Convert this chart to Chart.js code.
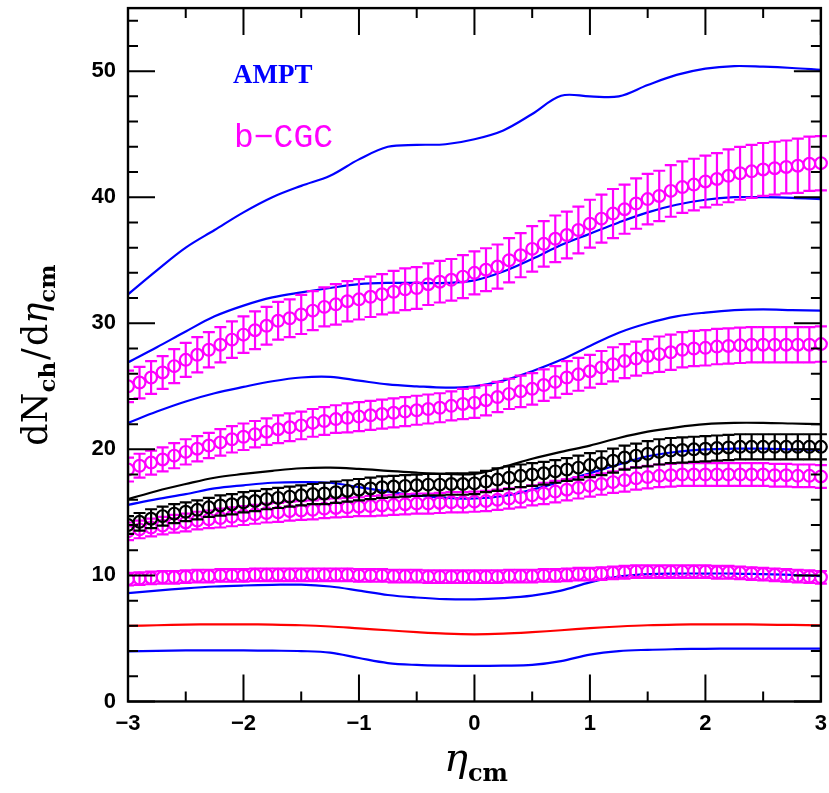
<!DOCTYPE html>
<html>
<head>
<meta charset="utf-8">
<script src="https://cdn.jsdelivr.net/npm/chart.js@4.4.0/dist/chart.umd.min.js"></script>
<style>
html, body { margin: 0; padding: 0; background: #fff; }
#wrap { width: 829px; height: 793px; }
</style>
</head>
<body>
<div id="wrap"><canvas id="dndeta"></canvas></div>
<script>
// eta grid for the model curves
const etaLine = [-3, -2.75, -2.5, -2.25, -2, -1.75, -1.5, -1.25, -1, -0.75, -0.5, -0.25, 0,
                 0.25, 0.5, 0.75, 1, 1.25, 1.5, 1.75, 2, 2.25, 2.5, 2.75, 3];

// AMPT curves (blue), top to bottom
const amptA = [32.3, 34.2, 36.0, 37.4, 38.8, 40.0, 40.9, 41.7, 43.0, 44.0, 44.15, 44.2, 44.6,
               45.3, 46.6, 48.05, 48.0, 48.0, 48.9, 49.7, 50.2, 50.4, 50.35, 50.25, 50.1];
const amptB = [26.9, 28.1, 29.35, 30.55, 31.4, 32.05, 32.45, 32.8, 33.1, 33.2, 33.2, 33.2, 33.4,
               34.1, 35.1, 36.2, 37.1, 38.0, 38.8, 39.4, 39.8, 40.0, 40.0, 39.95, 39.85];
const amptC = [22.1, 23.0, 23.8, 24.45, 24.95, 25.4, 25.7, 25.75, 25.45, 25.15, 25.0, 24.9, 25.0,
               25.45, 26.2, 27.1, 28.2, 29.25, 30.0, 30.55, 30.85, 31.05, 31.1, 31.05, 31.0];
const amptD = [15.6, 16.05, 16.45, 16.9, 17.15, 17.35, 17.4, 17.35, 17.0, 16.65, 16.35, 16.15, 16.1,
               16.3, 16.8, 17.45, 18.1, 18.8, 19.45, 19.8, 20.0, 20.05, 20.05, 20.0, 19.95];
const amptE = [8.6, 8.8, 8.98, 9.12, 9.2, 9.25, 9.27, 9.12, 8.8, 8.45, 8.25, 8.12, 8.1,
               8.2, 8.4, 8.8, 9.45, 9.9, 10.1, 10.15, 10.15, 10.15, 10.1, 10.05, 9.95];
const amptF = [3.98, 4.02, 4.05, 4.06, 4.05, 4.03, 4.0, 3.88, 3.45, 3.05, 2.9, 2.84, 2.82,
               2.84, 2.9, 3.2, 3.72, 4.0, 4.1, 4.15, 4.18, 4.2, 4.2, 4.2, 4.19];
// black and red curves
const blackLine = [16.05, 16.7, 17.25, 17.75, 18.05, 18.3, 18.5, 18.55, 18.45, 18.3, 18.15, 18.05, 18.05,
                   18.6, 19.25, 19.8, 20.3, 20.9, 21.4, 21.75, 22.0, 22.1, 22.1, 22.05, 22.0];
const redLine = [6.0, 6.05, 6.1, 6.12, 6.12, 6.1, 6.05, 5.95, 5.8, 5.65, 5.5, 5.38, 5.33,
                 5.38, 5.5, 5.65, 5.82, 5.95, 6.05, 6.1, 6.12, 6.12, 6.1, 6.07, 6.04];

// eta grid for the points
const etaPts = [-3, -2.9, -2.8, -2.7, -2.6, -2.5, -2.4, -2.3, -2.2, -2.1,
                -2, -1.9, -1.8, -1.7, -1.6, -1.5, -1.4, -1.3, -1.2, -1.1,
                -1, -0.9, -0.8, -0.7, -0.6, -0.5, -0.4, -0.3, -0.2, -0.1,
                0, 0.1, 0.2, 0.3, 0.4, 0.5, 0.6, 0.7, 0.8, 0.9,
                1, 1.1, 1.2, 1.3, 1.4, 1.5, 1.6, 1.7, 1.8, 1.9,
                2, 2.1, 2.2, 2.3, 2.4, 2.5, 2.6, 2.7, 2.8, 2.9,
                3];

// b-CGC points (magenta), top to bottom, with errors
const cgcA = [25.0, 25.3, 25.7, 26.1, 26.6, 27.1, 27.5, 27.9, 28.3, 28.7,
              29.1, 29.45, 29.8, 30.2, 30.4, 30.7, 31.0, 31.3, 31.5, 31.75,
              31.9, 32.1, 32.3, 32.5, 32.7, 32.8, 33.1, 33.3, 33.45, 33.7,
              34.0, 34.25, 34.5, 35.0, 35.4, 35.9, 36.3, 36.7, 37.0, 37.4,
              37.9, 38.3, 38.7, 39.05, 39.5, 39.85, 40.1, 40.5, 40.8, 41.0,
              41.25, 41.45, 41.7, 41.9, 42.05, 42.2, 42.3, 42.4, 42.5, 42.65,
              42.7];
const cgcAErr = [1.25, 1.25, 1.3, 1.3, 1.35, 1.35, 1.4, 1.4, 1.4, 1.45,
                 1.45, 1.5, 1.5, 1.5, 1.5, 1.55, 1.55, 1.55, 1.6, 1.6,
                 1.6, 1.6, 1.6, 1.65, 1.65, 1.65, 1.65, 1.65, 1.65, 1.7,
                 1.7, 1.7, 1.75, 1.75, 1.75, 1.8, 1.8, 1.85, 1.85, 1.85,
                 1.9, 1.9, 1.95, 1.95, 2.0, 2.0, 2.0, 2.05, 2.05, 2.05,
                 2.05, 2.05, 2.1, 2.1, 2.1, 2.1, 2.1, 2.1, 2.15, 2.15,
                 2.15];
const cgcB = [18.4, 18.7, 18.95, 19.2, 19.5, 19.8, 20.05, 20.3, 20.55, 20.8,
              21.0, 21.2, 21.4, 21.6, 21.75, 21.9, 22.1, 22.25, 22.4, 22.5,
              22.6, 22.7, 22.8, 22.9, 23.0, 23.1, 23.2, 23.3, 23.45, 23.6,
              23.7, 23.9, 24.15, 24.4, 24.6, 24.8, 25.1, 25.35, 25.7, 25.95,
              26.2, 26.5, 26.75, 27.0, 27.2, 27.4, 27.55, 27.7, 27.9, 28.0,
              28.05, 28.15, 28.2, 28.25, 28.3, 28.3, 28.3, 28.3, 28.3, 28.3,
              28.35];
const cgcBErr = [0.95, 0.95, 0.95, 0.95, 1.0, 1.0, 1.0, 1.0, 1.05, 1.05,
                 1.05, 1.05, 1.05, 1.1, 1.1, 1.1, 1.1, 1.1, 1.1, 1.15,
                 1.15, 1.15, 1.15, 1.15, 1.15, 1.15, 1.15, 1.15, 1.15, 1.2,
                 1.2, 1.2, 1.2, 1.2, 1.25, 1.25, 1.25, 1.25, 1.3, 1.3,
                 1.3, 1.3, 1.35, 1.35, 1.35, 1.35, 1.4, 1.4, 1.4, 1.4,
                 1.4, 1.4, 1.4, 1.4, 1.4, 1.4, 1.4, 1.4, 1.4, 1.4,
                 1.4];
const cgcC = [13.5, 13.65, 13.8, 13.95, 14.1, 14.2, 14.35, 14.45, 14.55, 14.65,
              14.75, 14.85, 14.95, 15.0, 15.1, 15.15, 15.2, 15.3, 15.35, 15.4,
              15.45, 15.5, 15.55, 15.6, 15.65, 15.7, 15.7, 15.75, 15.8, 15.8,
              15.85, 15.9, 16.0, 16.1, 16.2, 16.35, 16.5, 16.65, 16.8, 16.95,
              17.1, 17.25, 17.4, 17.55, 17.7, 17.8, 17.9, 17.95, 18.0, 18.0,
              18.0, 18.0, 18.0, 18.0, 18.0, 18.0, 17.95, 17.95, 17.9, 17.9,
              17.85];
const cgcCErr = [0.7, 0.7, 0.7, 0.7, 0.7, 0.7, 0.7, 0.7, 0.75, 0.75,
                 0.75, 0.75, 0.75, 0.75, 0.75, 0.75, 0.75, 0.75, 0.75, 0.75,
                 0.75, 0.8, 0.8, 0.8, 0.8, 0.8, 0.8, 0.8, 0.8, 0.8,
                 0.8, 0.8, 0.8, 0.8, 0.8, 0.8, 0.85, 0.85, 0.85, 0.85,
                 0.85, 0.85, 0.85, 0.9, 0.9, 0.9, 0.9, 0.9, 0.9, 0.9,
                 0.9, 0.9, 0.9, 0.9, 0.9, 0.9, 0.9, 0.9, 0.9, 0.9,
                 0.9];
const cgcD = [9.7, 9.75, 9.8, 9.85, 9.85, 9.9, 9.95, 9.95, 10.0, 10.0,
              10.0, 10.05, 10.05, 10.05, 10.05, 10.05, 10.05, 10.05, 10.05, 10.05,
              10.0, 10.0, 10.0, 9.95, 9.95, 9.95, 9.9, 9.9, 9.9, 9.9,
              9.9, 9.9, 9.9, 9.95, 9.95, 9.95, 10.0, 10.0, 10.05, 10.1,
              10.1, 10.15, 10.2, 10.25, 10.3, 10.3, 10.3, 10.3, 10.3, 10.3,
              10.3, 10.25, 10.25, 10.2, 10.15, 10.1, 10.05, 10.0, 9.95, 9.9,
              9.85];
const cgcDErr = [0.5, 0.5, 0.5, 0.5, 0.5, 0.5, 0.5, 0.5, 0.5, 0.5,
                 0.5, 0.5, 0.5, 0.5, 0.5, 0.5, 0.5, 0.5, 0.5, 0.5,
                 0.5, 0.5, 0.5, 0.5, 0.5, 0.5, 0.5, 0.5, 0.5, 0.5,
                 0.5, 0.5, 0.5, 0.5, 0.5, 0.5, 0.5, 0.5, 0.5, 0.5,
                 0.5, 0.5, 0.5, 0.5, 0.5, 0.5, 0.5, 0.5, 0.5, 0.5,
                 0.5, 0.5, 0.5, 0.5, 0.5, 0.5, 0.5, 0.5, 0.5, 0.5,
                 0.5];

// black points with errors
const dataK = [14.0, 14.25, 14.5, 14.7, 14.9, 15.05, 15.2, 15.4, 15.55, 15.65,
               15.8, 15.9, 16.05, 16.15, 16.25, 16.35, 16.45, 16.5, 16.6, 16.7,
               16.8, 16.9, 17.0, 17.05, 17.1, 17.15, 17.2, 17.2, 17.25, 17.25,
               17.3, 17.45, 17.6, 17.75, 17.9, 18.0, 18.1, 18.25, 18.4, 18.55,
               18.75, 18.9, 19.1, 19.35, 19.5, 19.65, 19.8, 19.9, 19.95, 20.0,
               20.05, 20.1, 20.15, 20.2, 20.2, 20.2, 20.2, 20.2, 20.2, 20.2,
               20.2];
const dataKErr = [0.7, 0.7, 0.75, 0.75, 0.75, 0.75, 0.75, 0.75, 0.8, 0.8,
                  0.8, 0.8, 0.8, 0.8, 0.8, 0.8, 0.8, 0.85, 0.85, 0.85,
                  0.85, 0.85, 0.85, 0.85, 0.85, 0.85, 0.85, 0.85, 0.85, 0.85,
                  0.85, 0.85, 0.9, 0.9, 0.9, 0.9, 0.9, 0.9, 0.9, 0.95,
                  0.95, 0.95, 0.95, 0.95, 0.95, 1.0, 1.0, 1.0, 1.0, 1.0,
                  1.0, 1.0, 1.0, 1.0, 1.0, 1.0, 1.0, 1.0, 1.0, 1.0,
                  1.0];

const xTicks = [-3, -2, -1, 0, 1, 2, 3];
const yTicks = [0, 10, 20, 30, 40, 50];

const BLUE = '#0000ff';
const MAGENTA = '#ff00ff';
const RED = '#ff0000';
const BLACK = '#000000';

function pts(xs, ys){
    return xs.map((x, i) => ({x: x, y: ys[i]}));
}

function lineSet(ys, color){
    return {
        data: pts(etaLine, ys),
        showLine: true,
        borderColor: color,
        borderWidth: 2.2,
        pointRadius: 0,
        tension: 0.35,
        fill: false
    };
}

function markSet(ys, errs, color){
    return {
        data: pts(etaPts, ys),
        errs: errs,
        showLine: false,
        pointStyle: 'circle',
        pointRadius: 5.9,
        pointBorderWidth: 2.2,
        pointBorderColor: color,
        pointBackgroundColor: 'rgba(0,0,0,0)',
        borderColor: color,
        clip: {left: 1, top: 8, right: 8, bottom: 8}
    };
}

// vertical error bars with caps, drawn through the y scale
const errorBars = {
    id: 'errorBars',
    afterDatasetDraw(chart, args){
        let ds = chart.data.datasets[args.index];
        if(!ds.errs) return;
        let ctx = chart.ctx, y = chart.scales.y, area = chart.chartArea;
        ctx.save();
        ctx.beginPath();
        ctx.rect(area.left - 1, area.top - 8, area.right - area.left + 9, area.bottom - area.top + 16);
        ctx.clip();
        ctx.strokeStyle = ds.borderColor;
        ctx.lineWidth = 2.2;
        args.meta.data.forEach((p, i) => {
            let v = ds.data[i].y, e = ds.errs[i];
            let top = y.getPixelForValue(v + e), bot = y.getPixelForValue(v - e);
            ctx.beginPath();
            ctx.moveTo(p.x, top); ctx.lineTo(p.x, bot);
            ctx.moveTo(p.x - 6, top); ctx.lineTo(p.x + 6, top);
            ctx.moveTo(p.x - 6, bot); ctx.lineTo(p.x + 6, bot);
            ctx.stroke();
        });
        ctx.restore();
    }
};

// box with inward ticks on all four sides
const frame = {
    id: 'frame',
    afterDatasetsDraw(chart){
        let ctx = chart.ctx, a = chart.chartArea;
        let xs = chart.scales.x, ys = chart.scales.y;
        ctx.save();
        ctx.strokeStyle = BLACK;
        ctx.lineWidth = 2.4;
        ctx.strokeRect(a.left, a.top, a.right - a.left, a.bottom - a.top);
        ctx.lineWidth = 2;
        ctx.beginPath();
        for(let v = -3; v <= 3.001; v += 0.5){
            let px = xs.getPixelForValue(v);
            let len = xTicks.includes(Math.round(v * 2) / 2) ? 27 : 10;
            ctx.moveTo(px, a.bottom); ctx.lineTo(px, a.bottom - len);
            ctx.moveTo(px, a.top); ctx.lineTo(px, a.top + len);
        }
        for(let v = 0; v <= 55; v += 2){
            let py = ys.getPixelForValue(v);
            let len = yTicks.includes(v) ? 27 : 10;
            ctx.moveTo(a.left, py); ctx.lineTo(a.left + len, py);
            ctx.moveTo(a.right, py); ctx.lineTo(a.right - len, py);
        }
        ctx.stroke();
        ctx.restore();
    }
};

function drawRuns(ctx, runs, cx, base){
    let w = 0;
    runs.forEach(r => { ctx.font = r.font; w += ctx.measureText(r.t).width + (r.gap || 0); });
    let x = cx - w / 2;
    runs.forEach(r => {
        ctx.font = r.font;
        ctx.fillText(r.t, x, base + (r.dy || 0));
        x += ctx.measureText(r.t).width + (r.gap || 0);
    });
}

// axis titles and the two labels
const titles = {
    id: 'titles',
    afterDraw(chart){
        let ctx = chart.ctx;
        ctx.save();
        ctx.fillStyle = BLACK;
        ctx.textBaseline = 'alphabetic';
        ctx.textAlign = 'left';

        let main = '35px "DejaVu Serif"', sub = 'bold 23px "DejaVu Serif"';
        let ital = 'italic 35px "DejaVu Serif"';
        ctx.save();
        ctx.translate(47, 355);
        ctx.rotate(-Math.PI / 2);
        drawRuns(ctx, [
            {t: 'dN', font: main},
            {t: 'ch', font: sub, dy: 8, gap: 2},
            {t: '/', font: main, gap: 2},
            {t: 'd', font: main},
            {t: 'η', font: ital},
            {t: 'cm', font: sub, dy: 8}
        ], 0, 0);
        ctx.restore();

        drawRuns(ctx, [
            {t: 'η', font: 'italic 40px "DejaVu Serif"'},
            {t: 'cm', font: 'bold 24px "DejaVu Serif"', dy: 10}
        ], 476, 771);

        ctx.fillStyle = BLUE;
        ctx.font = 'bold 27px "Liberation Serif"';
        ctx.fillText('AMPT', 233, 83);
        ctx.fillStyle = MAGENTA;
        ctx.font = '33px "Liberation Mono"';
        ctx.fillText('b−CGC', 234, 147);
        ctx.restore();
    }
};

function noPad(s){
    s.paddingTop = 0; s.paddingBottom = 0; s.paddingLeft = 0; s.paddingRight = 0;
}

function dndetaChart(id){
    const data = {
        datasets: [
            markSet(dataK, dataKErr, BLACK),
            markSet(cgcA, cgcAErr, MAGENTA),
            markSet(cgcB, cgcBErr, MAGENTA),
            markSet(cgcC, cgcCErr, MAGENTA),
            markSet(cgcD, cgcDErr, MAGENTA),
            lineSet(amptA, BLUE),
            lineSet(amptB, BLUE),
            lineSet(amptC, BLUE),
            lineSet(blackLine, BLACK),
            lineSet(amptD, BLUE),
            lineSet(amptE, BLUE),
            lineSet(redLine, RED),
            lineSet(amptF, BLUE)
        ]
    };

    const tickFont = {family: '"Liberation Sans", Arial, sans-serif', size: 22, weight: 'bold'};

    const config = {
        type: 'scatter',
        data: data,
        options: {
            responsive: true,
            maintainAspectRatio: false,
            animation: false,
            events: [],
            layout: {padding: {left: 0, right: 7, top: 8, bottom: 0}},
            plugins: {legend: {display: false}, tooltip: {enabled: false}},
            scales: {
                x: {
                    type: 'linear', min: -3, max: 3,
                    grid: {display: false, drawTicks: false},
                    border: {display: false},
                    ticks: {
                        stepSize: 1, autoSkip: false, maxRotation: 0, padding: 9,
                        color: BLACK, font: tickFont,
                        callback: v => v < 0 ? '−' + Math.abs(v) : '' + v
                    },
                    afterFit: s => { s.height = 91.5; noPad(s); }
                },
                y: {
                    type: 'linear', min: 0, max: 55,
                    grid: {display: false, drawTicks: false},
                    border: {display: false},
                    ticks: {stepSize: 10, autoSkip: false, padding: 12, color: BLACK, font: tickFont},
                    afterBuildTicks: s => { s.ticks = s.ticks.filter(t => yTicks.includes(t.value)); },
                    afterFit: s => { s.width = 128; noPad(s); }
                }
            }
        },
        plugins: [errorBars, frame, titles]
    };

    let ctx = document.getElementById(id).getContext('2d');
    new Chart(ctx, config);
}

dndetaChart('dndeta');
</script>
</body>
</html>
